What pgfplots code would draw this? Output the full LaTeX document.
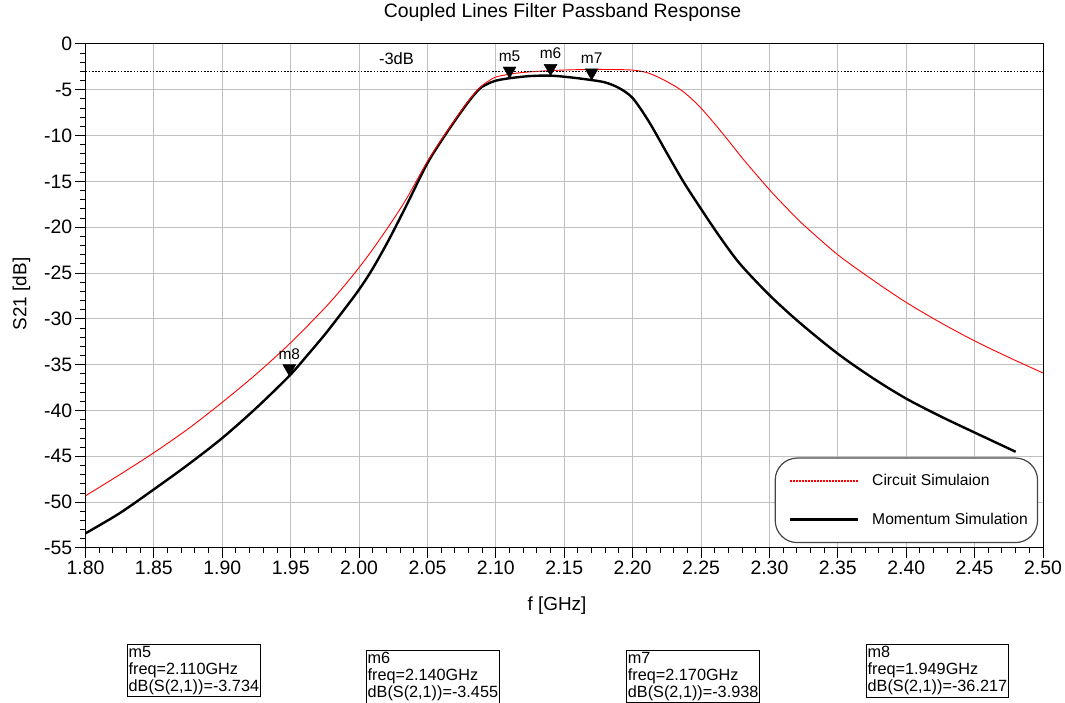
\documentclass[border=0pt]{standalone}
\usepackage{pgfplots}
\pgfplotsset{compat=1.18}
\usepackage{fontspec}
\setmainfont{Liberation Sans}
\newcommand\fs[2]{\fontsize{#1}{#2}\selectfont}
\definecolor{gridc}{RGB}{192,192,192}
\definecolor{legc}{RGB}{70,70,70}

\begin{document}
\begin{tikzpicture}
\useasboundingbox (0,0) rectangle (1065bp,703bp);
\begin{axis}[
  at={(85.5bp,155bp)}, anchor=south west,
  scale only axis, width=957.5bp, height=504bp,
  xmin=1.8, xmax=2.5, ymin=-55, ymax=0,
  xtick={1.80,1.85,1.90,1.95,2.00,2.05,2.10,2.15,2.20,2.25,2.30,2.35,2.40,2.45,2.50},
  ytick={-55,-50,-45,-40,-35,-30,-25,-20,-15,-10,-5,0},
  minor x tick num=4, minor y tick num=4,
  xtick pos=bottom, ytick pos=left,
  xtick align=outside, ytick align=outside,
  major tick length=10bp, minor tick length=5bp,
  tick style={draw=black, line width=1bp},
  minor tick style={draw=black, line width=1bp},
  grid=major, major grid style={gridc, line width=1bp},
  axis line style={black, line width=1bp},
  /pgf/number format/assume math mode=true,
  xticklabel style={/pgf/number format/fixed, /pgf/number format/fixed zerofill,
    /pgf/number format/precision=2, inner sep=3bp},
  tick label style={font=\fs{19.5}{21}},
  yticklabel style={inner sep=3bp},
  title={Coupled Lines Filter Passband Response},
  title style={font=\fs{19.5}{21}, at={(axis description cs:0.4982,1.0502)}, anchor=center},
  xlabel={f [GHz]},
  xlabel style={font=\fs{19}{21}, at={(axis description cs:0.4924,-0.1151)}, anchor=center},
  ylabel={S21 [dB]},
  ylabel style={font=\fs{19}{21}, at={(axis description cs:-0.0668,0.504)}, anchor=center},
  legend style={at={(0.8573,0.0946)}, anchor=center, draw=legc, line width=1.2bp,
    rounded corners=22bp, font=\fs{15.7}{18}, inner xsep=7.7bp, inner ysep=14.6bp,
    row sep=21.7bp, /tikz/every odd column/.append style={column sep=10.7bp}},
  legend cell align=left,
  legend image code/.code={\path (0bp,0bp); \draw[#1] (6bp,0bp) -- (73.6bp,0bp);},
]
% Momentum simulation (black)
\addplot[black, line width=2.4bp, smooth, tension=0.5, forget plot] coordinates {
(1.800,-53.4) (1.825,-51.2) (1.850,-48.6) (1.875,-45.9) (1.900,-43.0)
(1.925,-39.7) (1.949,-36.217) (1.962,-34.0) (1.975,-31.7) (1.988,-29.2) (2.000,-26.8)
(2.010,-24.5) (2.022,-21.3) (2.035,-17.5) (2.050,-13.0) (2.064,-9.7)
(2.079,-6.5) (2.088,-4.9) (2.094,-4.35) (2.100,-4.0) (2.110,-3.734) (2.125,-3.5)
(2.140,-3.455) (2.155,-3.65) (2.170,-3.938) (2.180,-4.2) (2.190,-4.8)
(2.200,-5.9) (2.212,-8.5) (2.225,-11.9) (2.237,-15.0) (2.250,-18.0)
(2.264,-21.1) (2.2785,-24.0) (2.300,-27.4) (2.322,-30.4) (2.350,-33.8)
(2.376,-36.5) (2.400,-38.7) (2.426,-40.7) (2.450,-42.4) (2.480,-44.5)};
% Circuit simulation (red)
\addplot[red, line width=0.9bp, smooth, tension=0.5, forget plot] coordinates {
(1.800,-49.3) (1.825,-47.0) (1.850,-44.6) (1.875,-42.0) (1.900,-39.1)
(1.925,-36.0) (1.950,-32.6) (1.975,-28.8) (1.988,-26.6) (2.000,-24.4)
(2.010,-22.4) (2.023,-19.6) (2.035,-16.8) (2.050,-12.8) (2.064,-9.6)
(2.079,-6.4) (2.088,-4.8) (2.094,-4.1) (2.100,-3.6) (2.110,-3.3) (2.120,-3.1)
(2.140,-2.9) (2.160,-2.8) (2.180,-2.78) (2.200,-2.85) (2.212,-3.2)
(2.225,-4.1) (2.237,-5.2) (2.250,-7.0) (2.266,-9.8) (2.281,-12.6)
(2.300,-15.9) (2.312,-17.8) (2.324,-19.6) (2.350,-23.0) (2.376,-25.8)
(2.400,-28.2) (2.425,-30.4) (2.450,-32.4) (2.475,-34.2) (2.500,-35.9)};
% -3 dB line
\addplot[black, line width=1.2bp, dash pattern=on 1.6bp off 1.6bp, forget plot] coordinates {(1.8,-3) (2.5,-3)};
\node[font=\fs{16.5}{18}] at (axis cs:2.0273,-3) [yshift=12.5bp] {-3dB};
% markers
\addplot[only marks, mark=triangle*, mark size=7.5bp,
  mark options={yshift=7.5bp, rotate=180, fill=black, draw=black},
  nodes near coords, point meta=explicit symbolic,
  every node near coord/.style={anchor=center, yshift=14.5bp, font=\fs{15.5}{17}, black},
  forget plot]
  coordinates {(2.11,-3.734)[m5] (2.14,-3.455)[m6] (2.17,-3.938)[m7] (1.949,-36.217)[m8]};
\addlegendimage{red, line width=1.2bp, dash pattern=on 1.5bp off 1.5bp}
\addlegendentry{Circuit Simulaion}
\addlegendimage{black, line width=3bp}
\addlegendentry{Momentum Simulation}
\end{axis}
% tick marks drawn outside the axis frame
\begin{scope}[line width=1bp, black]
\foreach \i in {0,...,70} {\draw ({85.5bp+\i*13.6786bp},155bp) -- ++(0,-5bp);}
\foreach \i in {0,5,...,70} {\draw ({85.5bp+\i*13.6786bp},155bp) -- ++(0,-10bp);}
\foreach \j in {0,...,55} {\draw (85.5bp,{155bp+\j*9.16364bp}) -- ++(-5bp,0);}
\foreach \j in {0,5,...,55} {\draw (85.5bp,{155bp+\j*9.16364bp}) -- ++(-10bp,0);}
\end{scope}
\begin{scope}[every node/.style={draw, line width=0.9bp, anchor=north west, align=left,
  inner xsep=1.5bp, inner ysep=2bp, font=\fs{16.3}{17}}]
\node at (126.7bp,59bp) {m5\\freq=2.110GHz\\dB(S(2,1))=-3.734};
\node at (365.7bp,53bp) {m6\\freq=2.140GHz\\dB(S(2,1))=-3.455};
\node at (626bp,53bp) {m7\\freq=2.170GHz\\dB(S(2,1))=-3.938};
\node at (865.7bp,59bp) {m8\\freq=1.949GHz\\dB(S(2,1))=-36.217};
\end{scope}
\end{tikzpicture}
\end{document}
